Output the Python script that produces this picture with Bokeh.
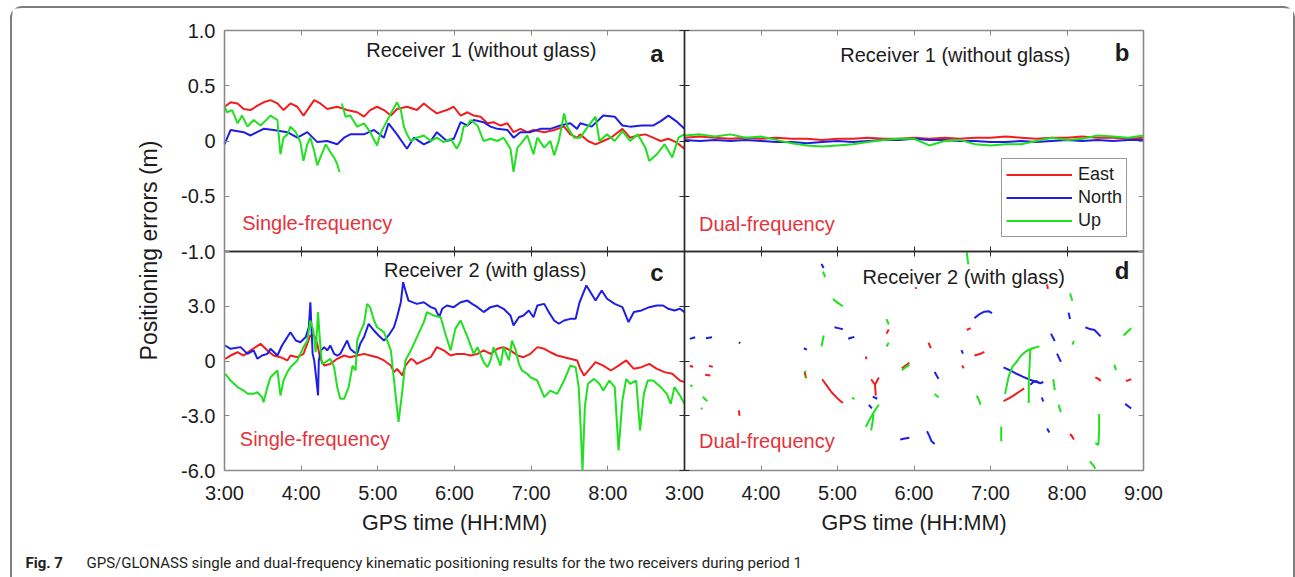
import math

from bokeh.plotting import figure
from bokeh.layouts import column
from bokeh.models import Range1d, LinearAxis, FixedTicker, Label, Legend, LegendItem
from bokeh.embed import file_html
from bokeh.resources import INLINE

NaN = float("nan")

# ---------------- tick values and labels ----------------
hour_ticks = [3, 4, 5, 6, 7, 8, 9]
hour_labels = ["3:00", "4:00", "5:00", "6:00", "7:00", "8:00", "9:00"]
small_ticks = [-1.0, -0.5, 0.0, 0.5, 1.0]
small_labels = ["-1.0", "-0.5", "0", "0.5", "1.0"]
large_ticks = [-6, -3, 0, 3, 6]
large_labels = ["-6.0", "-3.0", "0", "3.0", "6.0"]

# ---------------- (a) receiver 1, single-frequency (m) ----------------
a_east_t = [3.00, 3.08, 3.17, 3.25, 3.34, 3.43, 3.51, 3.60, 3.69, 3.77, 3.86, 3.95, 4.03, 4.17, 4.25,
            4.34, 4.47, 4.60, 4.73, 4.82, 4.90, 4.99, 5.08, 5.17, 5.25, 5.38, 5.51, 5.60, 5.69, 5.77,
            5.90, 5.99, 6.08, 6.17, 6.25, 6.34, 6.43, 6.51, 6.60, 6.69, 6.77, 6.86, 6.95, 7.03, 7.17,
            7.30, 7.43, 7.51, 7.60, 7.64, 7.74, 7.84, 7.94, 8.04, 8.19, 8.29, 8.39, 8.49, 8.59, 8.69,
            8.79, 8.89, 9.00]
a_east = [0.31, 0.35, 0.34, 0.29, 0.28, 0.32, 0.35, 0.37, 0.34, 0.28, 0.34, 0.31, 0.23, 0.37, 0.34,
          0.29, 0.31, 0.28, 0.26, 0.22, 0.28, 0.31, 0.28, 0.23, 0.29, 0.31, 0.28, 0.34, 0.29, 0.25,
          0.28, 0.31, 0.23, 0.26, 0.23, 0.22, 0.16, 0.17, 0.14, 0.16, 0.08, 0.11, 0.08, 0.10, 0.08,
          0.10, 0.13, 0.06, 0.03, 0.06, 0.00, -0.03, 0.00, 0.03, 0.11, 0.03, 0.05, 0.06, 0.03, 0.00,
          0.02, -0.01, -0.07]

a_north_t = [3.00, 3.08, 3.25, 3.34, 3.51, 3.64, 3.82, 3.95, 4.08, 4.21, 4.34, 4.47, 4.56, 4.64, 4.82,
             4.95, 5.08, 5.14, 5.25, 5.38, 5.47, 5.60, 5.69, 5.77, 5.90, 5.99, 6.08, 6.17, 6.25, 6.38,
             6.47, 6.56, 6.69, 6.77, 6.86, 6.99, 7.12, 7.25, 7.38, 7.51, 7.60, 7.64, 7.79, 7.94, 8.09,
             8.19, 8.29, 8.44, 8.59, 8.69, 8.79, 8.89, 9.00]
a_north = [-0.03, 0.10, 0.08, 0.05, 0.11, 0.10, 0.08, 0.03, 0.08, -0.01, 0.00, -0.03, 0.03, 0.06, 0.06,
           0.10, 0.03, 0.16, 0.06, -0.07, 0.03, -0.03, 0.00, 0.08, 0.00, 0.02, 0.17, 0.14, 0.19, 0.17,
           0.13, 0.11, 0.10, 0.03, 0.08, 0.08, 0.11, 0.11, 0.14, 0.16, 0.11, 0.16, 0.13, 0.23, 0.22,
           0.14, 0.13, 0.14, 0.14, 0.18, 0.23, 0.18, 0.11]

# the Up solution has an outage around 4:30 (NaN breaks the line)
a_up_t = [3.00, 3.03, 3.10, 3.17, 3.23, 3.30, 3.38, 3.47, 3.56, 3.60, 3.69, 3.73, 3.77, 3.82, 3.86,
          3.93, 3.99, 4.03, 4.08, 4.12, 4.17, 4.21, 4.25, 4.32, 4.38, 4.43, 4.47, 4.50, NaN,
          4.53, 4.58, 4.64, 4.73, 4.82, 4.90, 4.99, 5.03, 5.08, 5.17, 5.25, 5.30, 5.34, 5.38, 5.43,
          5.51, 5.60, 5.69, 5.77, 5.86, 5.95, 6.03, 6.08, 6.12, 6.17, 6.21, 6.30, 6.38, 6.47, 6.56,
          6.64, 6.73, 6.77, 6.82, 6.86, 6.95, 7.03, 7.08, 7.17, 7.25, 7.30, 7.36, 7.43, 7.47, 7.56,
          7.64, 7.74, 7.84, 7.89, 7.99, 8.09, 8.19, 8.29, 8.39, 8.49, 8.54, 8.64, 8.74, 8.84, 8.92,
          9.00]
a_up = [0.32, 0.26, 0.28, 0.16, 0.23, 0.13, 0.19, 0.14, 0.20, 0.23, 0.19, -0.12, 0.03, 0.06, 0.13,
        0.08, -0.01, -0.18, -0.03, 0.03, -0.09, -0.22, -0.15, -0.03, -0.10, -0.15, -0.21, -0.28, NaN,
        0.34, 0.22, 0.23, 0.13, 0.16, 0.08, -0.04, 0.06, 0.13, 0.25, 0.35, 0.28, 0.13, 0.06, 0.00,
        0.03, 0.05, 0.00, 0.03, -0.01, 0.02, -0.07, 0.00, 0.13, 0.14, 0.19, 0.14, 0.00, 0.02, 0.00,
        0.03, -0.07, -0.28, -0.06, -0.03, 0.05, -0.12, 0.03, -0.06, 0.00, -0.13, 0.00, 0.25, 0.13, 0.03,
        0.03, 0.13, 0.22, 0.00, 0.06, 0.00, 0.09, 0.00, 0.06, -0.06, -0.18, -0.12, -0.03, -0.15, 0.03,
        0.06]

# ---------------- (b) receiver 1, dual-frequency (m) ----------------
b_t = [3.0, 3.2, 3.4, 3.6, 3.8, 4.0, 4.2, 4.4, 4.6, 4.8, 5.0, 5.2, 5.4, 5.6, 5.8, 6.0,
       6.2, 6.4, 6.6, 6.8, 7.0, 7.2, 7.4, 7.6, 7.8, 8.0, 8.2, 8.4, 8.6, 8.8, 9.0]
b_east = [0.03, 0.04, 0.03, 0.02, 0.03, 0.02, 0.03, 0.02, 0.02, 0.01, 0.02, 0.02, 0.03, 0.02, 0.02, 0.03,
          0.02, 0.03, 0.02, 0.03, 0.03, 0.04, 0.03, 0.02, 0.03, 0.03, 0.04, 0.03, 0.03, 0.02, 0.03]
b_north = [0.01, 0.00, 0.01, 0.00, 0.01, 0.00, -0.01, -0.01, -0.02, -0.01, 0.00, -0.01, 0.00, 0.01, 0.01, 0.02,
           0.01, 0.01, 0.00, 0.00, -0.01, -0.01, 0.00, -0.01, 0.00, 0.01, 0.00, 0.01, 0.00, 0.01, 0.01]
b_up = [0.05, 0.06, 0.04, 0.06, 0.03, 0.04, 0.01, -0.02, -0.04, -0.05, -0.04, -0.03, -0.01, 0.01, 0.02, 0.02,
        -0.04, 0.00, 0.01, -0.03, -0.04, -0.03, -0.03, 0.00, 0.03, 0.01, 0.02, 0.05, 0.04, 0.03, 0.05]

# ---------------- (c) receiver 2, single-frequency (m) ----------------
c_north_t = [3.01, 3.08, 3.21, 3.30, 3.38, 3.43, 3.49, 3.56, 3.60, 3.69, 3.75, 3.82, 3.86, 3.93, 3.99,
             4.06, 4.08, 4.10, 4.12, 4.13, 4.15, 4.17, 4.20, 4.22, 4.23, 4.26, 4.30, 4.34, 4.38, 4.43,
             4.47, 4.51, 4.60, 4.64, 4.69, 4.73, 4.77, 4.82, 4.88, 4.95, 5.01, 5.08, 5.14, 5.21, 5.25,
             5.30, 5.33, 5.36, 5.40, 5.51, 5.60, 5.69, 5.75, 5.80, 5.84, 5.90, 5.99, 6.08, 6.17, 6.23,
             6.30, 6.38, 6.47, 6.56, 6.64, 6.73, 6.77, 6.84, 6.90, 6.97, 7.03, 7.08, 7.17, 7.23, 7.30,
             7.36, 7.43, 7.51, 7.58, 7.63, 7.72, 7.84, 7.92, 7.99, 8.09, 8.19, 8.27, 8.34, 8.44, 8.54,
             8.64, 8.72, 8.79, 8.87, 8.94, 9.00]
c_north = [0.85, 0.67, 0.76, 0.39, 0.58, 0.12, 0.30, 0.39, 0.67, 0.30, 0.85, 1.31, 1.58, 1.12, 1.03,
           1.31, 1.58, 1.85, 3.22, 2.22, 0.39, 0.03, -1.07, -1.89, 0.03, 0.58, 0.76, 0.58, 0.85, 0.39,
           0.30, 0.39, 1.12, 0.67, 0.48, 0.39, 0.94, 1.31, 2.04, 1.67, 1.40, 1.12, 1.40, 1.85, 2.40,
           3.22, 4.32, 3.86, 3.31, 3.13, 3.22, 2.95, 2.86, 2.40, 2.86, 3.04, 2.95, 3.22, 3.31, 3.13,
           2.95, 2.68, 2.95, 3.04, 2.86, 2.49, 1.95, 2.40, 2.49, 2.77, 2.40, 3.04, 3.13, 2.68, 2.22,
           2.04, 2.22, 2.31, 2.31, 3.20, 4.14, 3.31, 3.86, 3.41, 3.13, 2.95, 2.13, 2.68, 2.77, 2.95,
           3.04, 3.04, 2.86, 2.77, 2.86, 2.68]

c_east_t = [3.01, 3.08, 3.17, 3.25, 3.34, 3.47, 3.56, 3.64, 3.73, 3.82, 3.86, 3.95, 4.03, 4.12, 4.17,
            4.21, 4.25, 4.30, 4.38, 4.47, 4.56, 4.64, 4.73, 4.82, 4.90, 4.99, 5.08, 5.17, 5.21, 5.25,
            5.32, 5.36, 5.43, 5.47, 5.51, 5.60, 5.69, 5.77, 5.86, 5.95, 6.03, 6.12, 6.21, 6.30, 6.38,
            6.47, 6.56, 6.64, 6.73, 6.82, 6.90, 6.99, 7.08, 7.17, 7.25, 7.34, 7.43, 7.51, 7.60, 7.64,
            7.69, 7.84, 7.94, 8.04, 8.14, 8.24, 8.34, 8.44, 8.54, 8.64, 8.74, 8.84, 8.94, 9.00]
c_east = [0.12, 0.30, 0.48, 0.30, 0.58, 0.94, 0.58, 0.30, 0.21, 0.03, 0.30, 0.21, 0.39, 1.40, 1.40,
          0.94, 0.12, -0.25, -0.16, 0.12, 0.30, 0.21, 0.30, 0.39, 0.30, 0.21, 0.03, -0.25, -0.61, -0.43,
          -0.79, -0.25, 0.12, 0.03, -0.16, 0.03, 0.21, 0.76, 0.58, 0.30, 0.39, 0.39, 0.30, 0.39, 0.58,
          0.39, 0.67, 0.76, 0.58, 0.30, 0.21, 0.39, 0.76, 0.67, 0.48, 0.30, 0.21, 0.12, 0.03, -0.43,
          -0.80, -0.06, -0.25, -0.52, -0.25, 0.03, -0.43, -0.34, -0.16, -0.43, -0.61, -0.70, -1.07, -1.16]

c_up_t = [3.01, 3.08, 3.17, 3.25, 3.30, 3.38, 3.43, 3.49, 3.51, 3.56, 3.60, 3.69, 3.73, 3.77, 3.82,
          3.86, 3.95, 3.99, 4.03, 4.08, 4.12, 4.16, 4.19, 4.22, 4.24, 4.27, 4.32, 4.38, 4.43, 4.47,
          4.51, 4.56, 4.62, 4.67, 4.71, 4.73, 4.77, 4.82, 4.86, 4.90, 4.95, 4.99, 5.08, 5.17, 5.23,
          5.27, 5.32, 5.36, 5.43, 5.51, 5.60, 5.64, 5.73, 5.82, 5.88, 5.95, 6.01, 6.08, 6.17, 6.25,
          6.30, 6.38, 6.43, 6.47, 6.51, 6.60, 6.64, 6.71, 6.75, 6.80, 6.84, 6.88, 6.95, 6.99, 7.08,
          7.17, 7.25, 7.34, 7.43, 7.51, 7.58, 7.62, 7.64, 7.67, 7.70, 7.74, 7.82, 7.89, 7.94, 8.02,
          8.09, 8.14, 8.19, 8.24, 8.29, 8.37, 8.42, 8.47, 8.52, 8.59, 8.69, 8.77, 8.82, 8.87, 8.94,
          9.00]
c_up = [-0.70, -1.07, -1.43, -1.62, -1.80, -1.80, -1.71, -1.98, -2.26, -1.43, -0.89, -0.52, -1.89, -1.07, -0.61,
        -0.34, 0.03, 0.39, 0.76, 1.12, 2.22, 1.67, 0.48, 2.68, 1.40, -0.16, -0.06, 0.12, -0.34, -1.43,
        -2.07, -2.07, -1.43, -0.25, -0.52, 1.12, 1.58, 2.04, 3.13, 2.95, 2.22, 1.85, 1.58, 0.58, -1.80,
        -3.35, -1.62, 0.03, 0.58, 1.31, 2.13, 2.68, 2.49, 2.40, 1.49, 0.58, 1.76, 2.22, 1.31, 0.39,
        0.76, -0.06, -0.34, 0.03, 0.76, -0.25, 0.76, 0.03, 1.12, 0.58, -0.16, -0.52, -0.70, -0.89, -1.07,
        -1.98, -1.62, -1.80, -1.07, -0.25, -0.34, -1.43, -3.08, -6.00, -2.53, -1.25, -0.98, -1.25, -1.62, -1.07,
        -1.43, -4.90, -2.16, -0.98, -1.25, -1.07, -3.81, -1.80, -1.07, -1.07, -1.43, -1.80, -2.35, -1.43, -1.89,
        -2.35]

# ---------------- (d) receiver 2, dual-frequency: short fixed-solution arcs (m) ----------------
d_east_t = [[3.07, 3.11], [3.32, 3.37], [3.27, 3.34], [3.71, 3.72], [4.57, 4.59],
            [4.80, 4.86, 4.92, 5.00, 5.07], [5.37, 5.38], [5.44, 5.49, 5.54], [5.49, 5.50],
            [5.64, 5.67], [5.84, 5.89, 5.94], [6.02, 6.03], [6.19, 6.22], [6.63, 6.65],
            [6.69, 6.74], [6.79, 6.86, 6.92], [7.17, 7.24, 7.30, 7.37, 7.44], [7.74, 7.75],
            [8.04, 8.07, 8.09], [8.37, 8.42, 8.44], [8.77, 8.84]]
d_east = [[-0.25, -0.33], [-0.26, -0.32], [-0.75, -0.80], [-2.70, -3.00], [-0.60, -0.95],
          [-1.00, -1.35, -1.70, -2.05, -2.30], [0.25, 0.10], [-1.00, -1.30, -0.90], [-1.30, -1.90],
          [1.50, 1.72], [-0.40, -0.25, -0.10], [4.05, 3.95], [1.00, 0.70], [-0.25, -0.40],
          [1.70, 1.80], [0.30, 0.38, 0.50], [-2.20, -2.05, -1.90, -1.70, -1.50], [4.20, 3.95],
          [-4.00, -4.15, -4.30], [-0.90, -1.00, -1.10], [-1.10, -1.00]]

d_north_t = [[3.07, 3.14], [3.28, 3.36], [3.71, 3.73], [4.56, 4.60], [4.79, 4.82],
             [4.96, 5.01, 5.07], [5.14, 5.18, 5.22], [5.46, 5.52], [5.41, 5.45], [5.82, 5.88, 5.94],
             [6.17, 6.20, 6.23, 6.27], [6.27, 6.32], [6.62, 6.64], [6.79, 6.85, 6.92, 6.98, 7.02],
             [7.17, 7.26, 7.34, 7.42, 7.50, 7.58, 7.64], [7.52, 7.56, 7.60, 7.65, 7.69], [7.67, 7.69],
             [7.74, 7.77], [7.79, 7.84], [7.87, 7.92], [8.02, 8.04], [8.24, 8.30, 8.36, 8.44], [8.76, 8.84]]
d_north = [[1.21, 1.30], [1.25, 1.30], [1.02, 0.98], [0.70, 0.62], [5.32, 5.10],
           [1.85, 1.80, 1.74], [1.22, 1.27, 1.32], [-1.95, -2.07], [-2.40, -2.60], [-4.30, -4.25, -4.20],
           [-3.85, -4.10, -4.40, -4.55], [-0.60, -0.98], [0.60, 0.40], [2.35, 2.55, 2.70, 2.72, 2.62],
           [-0.35, -0.52, -0.70, -0.86, -1.00, -1.12, -1.20], [-1.30, -1.15, -1.10, -1.22, -1.15], [-2.00, -2.22],
           [-3.70, -3.92], [1.50, 1.10], [0.40, -0.05], [2.65, 2.30], [1.85, 1.75, 1.70, 1.35], [-2.35, -2.60]]

d_up_t = [[3.08, 3.10], [3.24, 3.27, 3.30], [3.22, 3.23], [4.57, 4.59], [4.57, 4.59], [4.81, 4.84],
          [4.94, 5.00, 5.07], [4.79, 4.82], [5.19, 5.22], [5.37, 5.42, 5.49, 5.54], [5.44, 5.46, 5.47],
          [5.64, 5.67], [5.64, 5.67], [5.84, 5.89, 5.94], [6.27, 6.32], [6.69, 6.70, 6.71],
          [6.82, 6.85, 6.87], [7.14, 7.14], [7.19, 7.24, 7.29, 7.35, 7.40, 7.47, 7.55, 7.64],
          [7.52, 7.51, 7.50, 7.50], [7.82, 7.84], [7.89, 7.92], [8.07, 8.09], [8.04, 8.07],
          [8.42, 8.42, 8.41, 8.37], [8.62, 8.64], [8.74, 8.79, 8.84], [8.30, 8.34, 8.37]]
d_up = [[-1.30, -1.42], [-1.95, -2.10, -2.20], [-2.55, -2.65], [-0.55, -0.62], [-0.82, -0.88], [4.90, 4.60],
        [3.40, 3.20, 3.00], [0.80, 1.40], [-2.00, -2.10], [-3.60, -3.20, -2.70, -2.40], [-3.80, -3.30, -2.90],
        [2.30, 2.00], [0.80, 1.00], [-0.50, -0.35, -0.20], [-1.80, -2.00], [5.95, 5.60, 5.30],
        [-1.90, -2.15, -2.40], [-3.60, -4.40], [-1.80, -0.80, -0.30, 0.00, 0.30, 0.55, 0.70, 0.80],
        [0.60, -0.30, -1.20, -2.30], [-1.00, -1.60], [-2.40, -2.80], [0.90, 1.10], [3.70, 3.30],
        [-2.90, -3.80, -4.60, -4.50], [-0.20, -0.50], [1.40, 1.60, 1.80], [-5.50, -5.70, -5.90]]

# ---------------- styling ----------------
FONT = "Liberation Sans"
CAPTION_FONT = "Roboto"
EAST_C, NORTH_C, UP_C = "#f01e1e", "#1e1ee4", "#20e020"
TAG_C = "#e5333b"
INK = "#1c1c1c"
OUTER = "#8a8a8a"
INNER = "#2a2a2a"

# canvas and sub-panel geometry in pixels (2 x 2 panels inside one canvas)
CANVAS_W, CANVAS_H = 1281, 569
PANEL_X0, PANEL_Y0 = 212, 22          # top-left corner of panel (a)
W_LEFT, W_RIGHT = 460, 459
H_TOP, H_BOT = 221, 219


def x_span(lo, hi, px_start, px_len):
    """x range whose [lo, hi] covers px_len pixels starting px_start from the canvas left."""
    per_px = (hi - lo) / px_len
    start = lo - px_start * per_px
    return Range1d(start, start + CANVAS_W * per_px)


def y_span(lo, hi, px_start, px_len):
    """y range whose [lo, hi] covers px_len pixels starting px_start below the canvas top."""
    per_px = (hi - lo) / px_len
    top = hi + px_start * per_px
    return Range1d(top - CANVAS_H * per_px, top)


x_left = x_span(3, 9, PANEL_X0, W_LEFT)
x_right = x_span(3, 9, PANEL_X0 + W_LEFT, W_RIGHT)
y_top = y_span(-1, 1, PANEL_Y0, H_TOP)
y_bot = y_span(-6, 6, PANEL_Y0 + H_TOP, H_BOT)

p = figure(width=CANVAS_W, height=CANVAS_H, x_range=x_left, y_range=y_bot,
           x_axis_type=None, y_axis_type=None, title=None,
           toolbar_location=None, tools="", output_backend="svg",
           min_border=0, outline_line_color=None,
           background_fill_color="white", border_fill_color="white")
p.extra_x_ranges = {"right": x_right}
p.extra_y_ranges = {"top": y_top}

XL, XR, YT, YB = "default", "right", "top", "default"


def box_axes(xname, yname, xlim, ylim, xticks, yticks, outer):
    """Four tick-in axes drawn round one sub-panel."""
    made = {}
    for side in ("left", "right", "above", "below"):
        vertical = side in ("left", "right")
        if vertical:
            loc = xlim[0] if side == "left" else xlim[1]
            bounds, ticks = ylim, yticks
        else:
            loc = ylim[0] if side == "below" else ylim[1]
            bounds, ticks = xlim, xticks
        color = OUTER if side in outer else INNER
        ax = LinearAxis(
            x_range_name=xname, y_range_name=yname,
            fixed_location=loc, bounds=bounds,
            ticker=FixedTicker(ticks=list(ticks)),
            axis_line_color=color, axis_line_width=1.6 if side in outer else 1.4,
            major_tick_line_color=color, major_tick_line_width=1,
            major_tick_in=5, major_tick_out=0,
            minor_tick_line_color=None,
            major_label_text_color=None, major_label_text_font_size="0px",
            major_label_standoff=0,
        )
        p.add_layout(ax, side)
        made[side] = ax
    return made


def show_labels(ax, ticks, labels, standoff):
    ax.ticker = FixedTicker(ticks=list(ticks))
    ax.major_label_overrides = dict(zip(ticks, labels))
    ax.major_label_text_color = INK
    ax.major_label_text_font = FONT
    ax.major_label_text_font_size = "20px"
    ax.major_label_standoff = standoff


ax_a = box_axes(XL, YT, (3, 9), (-1, 1), hour_ticks, small_ticks, ("left", "above"))
ax_b = box_axes(XR, YT, (3, 9), (-1, 1), hour_ticks, small_ticks, ("right", "above"))
ax_c = box_axes(XL, YB, (3, 9), (-6, 6), hour_ticks, large_ticks, ("left", "below"))
ax_d = box_axes(XR, YB, (3, 9), (-6, 6), hour_ticks, large_ticks, ("right", "below"))

show_labels(ax_a["left"], small_ticks, small_labels, 9)
show_labels(ax_c["left"], large_ticks[:-1], large_labels[:-1], 9)
show_labels(ax_c["below"], hour_ticks[:-1], hour_labels[:-1], 11)
show_labels(ax_d["below"], hour_ticks, hour_labels, 11)

# ---------------- series ----------------
LW = 2
p.line(a_east_t, a_east, x_range_name=XL, y_range_name=YT, color=EAST_C, line_width=LW)
p.line(a_north_t, a_north, x_range_name=XL, y_range_name=YT, color=NORTH_C, line_width=LW)
p.line(a_up_t, a_up, x_range_name=XL, y_range_name=YT, color=UP_C, line_width=LW)

rb_e = p.line(b_t, b_east, x_range_name=XR, y_range_name=YT, color=EAST_C, line_width=LW)
rb_n = p.line(b_t, b_north, x_range_name=XR, y_range_name=YT, color=NORTH_C, line_width=LW)
rb_u = p.line(b_t, b_up, x_range_name=XR, y_range_name=YT, color=UP_C, line_width=LW)

p.line(c_east_t, c_east, x_range_name=XL, y_range_name=YB, color=EAST_C, line_width=LW)
p.line(c_north_t, c_north, x_range_name=XL, y_range_name=YB, color=NORTH_C, line_width=LW)
p.line(c_up_t, c_up, x_range_name=XL, y_range_name=YB, color=UP_C, line_width=LW)

p.multi_line(d_east_t, d_east, x_range_name=XR, y_range_name=YB, color=EAST_C, line_width=2)
p.multi_line(d_north_t, d_north, x_range_name=XR, y_range_name=YB, color=NORTH_C, line_width=2)
p.multi_line(d_up_t, d_up, x_range_name=XR, y_range_name=YB, color=UP_C, line_width=2)

# legend box inside panel (b); location is its lower-left corner in canvas pixels
legend = Legend(
    items=[LegendItem(label="East", renderers=[rb_e]),
           LegendItem(label="North", renderers=[rb_n]),
           LegendItem(label="Up", renderers=[rb_u])],
    location=(989, 340), margin=0, padding=4, spacing=0,
    label_height=23, glyph_height=23, glyph_width=66, label_standoff=6,
    label_text_font=FONT, label_text_font_size="18px", label_text_color=INK,
    border_line_color="#333333", border_line_width=1,
    background_fill_color="white", background_fill_alpha=1,
)
p.add_layout(legend)


def note(text, x, y, xname, yname, size="20px", color=INK, align="center",
         style="normal", font=FONT, angle=0.0, xo=0, yo=0, baseline="middle"):
    p.add_layout(Label(x=x, y=y, x_range_name=xname, y_range_name=yname, text=text,
                       text_font=font, text_font_size=size, text_color=color,
                       text_font_style=style, text_align=align, text_baseline=baseline,
                       angle=angle, x_offset=xo, y_offset=yo))


# panel headings, tags and letters
note("Receiver 1 (without glass)", 6.35, 0.82, XL, YT)
note("Receiver 1 (without glass)", 6.54, 0.78, XR, YT)
note("Receiver 2 (with glass)", 6.40, 4.96, XL, YB)
note("Receiver 2 (with glass)", 6.65, 4.62, XR, YB)
note("a", 8.64, 0.79, XL, YT, size="24px", style="bold")
note("b", 8.72, 0.80, XR, YT, size="24px", style="bold")
note("c", 8.64, 4.87, XL, YB, size="24px", style="bold")
note("d", 8.72, 4.96, XR, YB, size="24px", style="bold")
note("Single-frequency", 3.23, -0.74, XL, YT, color=TAG_C, align="left")
note("Dual-frequency", 3.19, -0.75, XR, YT, color=TAG_C, align="left")
note("Single-frequency", 3.20, -4.25, XL, YB, color=TAG_C, align="left")
note("Dual-frequency", 3.19, -4.36, XR, YB, color=TAG_C, align="left")

# axis titles
note("Positioning errors (m)", 3, 6, XL, YB, size="23px", angle=math.pi / 2, xo=-76, yo=1)
note("GPS time (HH:MM)", 6, -6, XL, YB, size="21.5px", yo=-52)
note("GPS time (HH:MM)", 6, -6, XR, YB, size="21.5px", yo=-52)

# figure caption
note("Fig. 7", 3, -6, XL, YB, size="15px", style="bold", font=CAPTION_FONT,
     align="left", baseline="alphabetic", xo=-199, yo=-92, color="#231f20")
note("GPS/GLONASS single and dual-frequency kinematic positioning results for the two "
     "receivers during period 1", 3, -6, XL, YB, size="15px", font=CAPTION_FONT,
     align="left", baseline="alphabetic", xo=-138, yo=-92, color="#231f20")

page = column(p, styles={
    "margin-left": "10px", "margin-top": "6px",
    "border": "2px solid #7d7d7d", "border-bottom": "none",
    "border-radius": "12px 12px 0 0",
})

open("out.html", "w").write(file_html(page, INLINE))
